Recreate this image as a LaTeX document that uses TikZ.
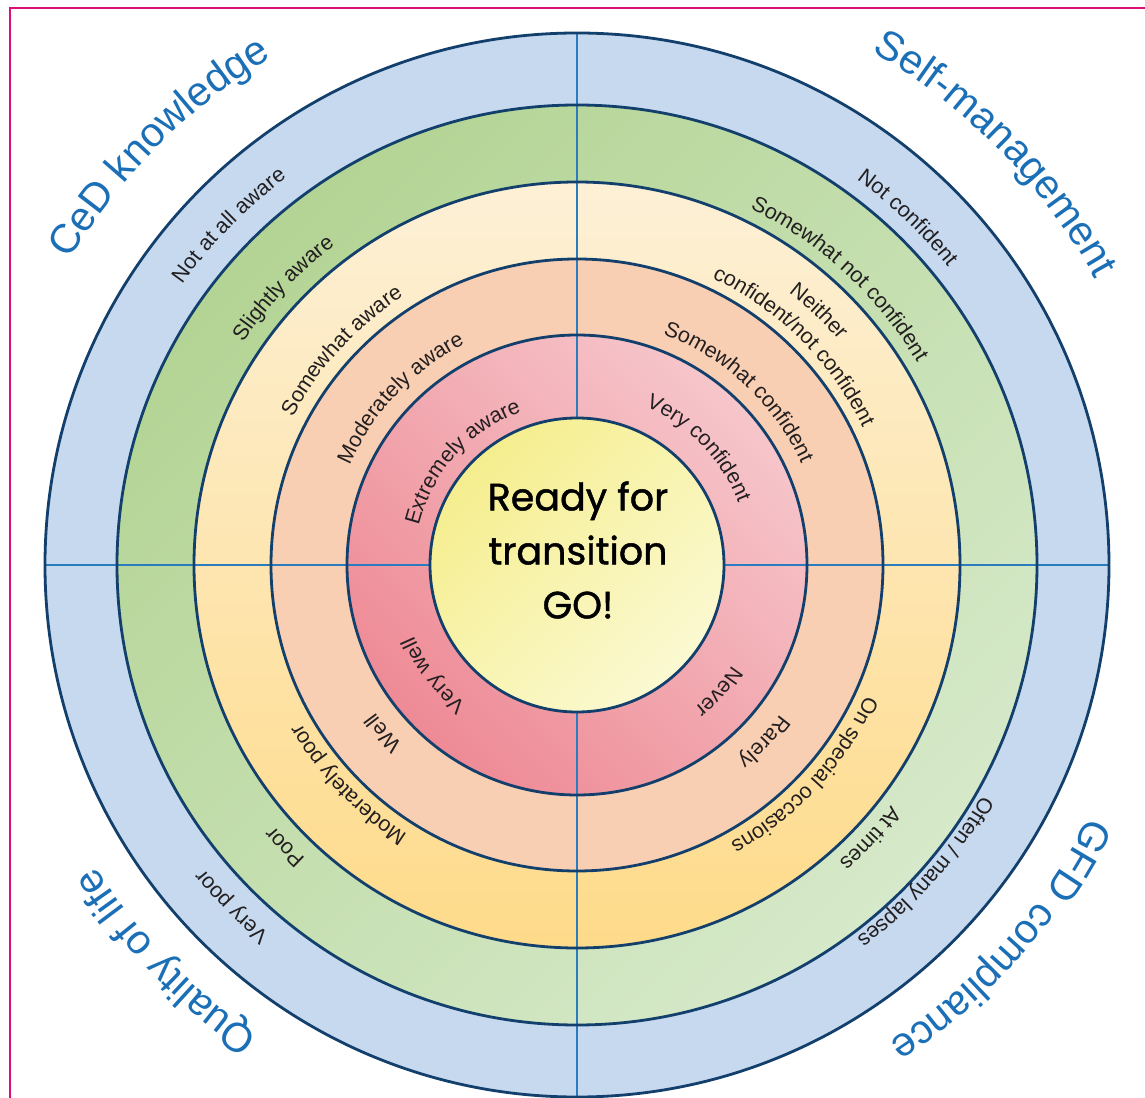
\documentclass[tikz,border=0pt]{standalone}
\usepackage{fontspec}
\usepackage{xcolor}
\usepackage{tikz}
\usetikzlibrary{decorations.text}
\setmainfont{Liberation Sans}
\newfontfamily\gofont[FakeBold=1.2]{Poppins}
\newcommand{\etqfont}{\fontsize{21.5}{21.5}\selectfont}
\newcommand{\titfont}{\fontsize{41}{41}\selectfont}
\newcommand{\rotulo}[4][etq]{\path[#1={#4}] ({#2+80}:#3) arc[start angle={#2+80}, end angle={#2-80}, radius=#3];}
\definecolor{cielo}{HTML}{C6D9EF}
\definecolor{verdeA}{HTML}{B3D494}
\definecolor{verdeB}{HTML}{D6E9CA}
\definecolor{cremaA}{HTML}{FDF0D6}
\definecolor{cremaB}{HTML}{FEDB8A}
\definecolor{melocoton}{HTML}{F9CFB4}
\definecolor{rosaA}{HTML}{F6C6CB}
\definecolor{rosaB}{HTML}{EE8A95}
\definecolor{limonA}{HTML}{F5EE8E}
\definecolor{limonB}{HTML}{FBF9D2}
\definecolor{marino}{HTML}{123F6B}
\definecolor{ejeazul}{HTML}{2B7CBF}
\definecolor{titulo}{HTML}{1B6FB6}
\definecolor{tinta}{HTML}{231F20}
\definecolor{marco}{HTML}{DC0F78}

\begin{document}
\begin{tikzpicture}[x=1pt, y=1pt,
      aro/.style={draw=marino, line width=2.8pt},
      eje/.style={draw=ejeazul, line width=1.2pt},
      etq/.style={decorate, decoration={text along path, text align=center,
                  text color=tinta, text={|\etqfont|#1}}},
      tit/.style={decorate, decoration={text along path, text align=center,
                  text color=titulo, text={|\titfont|#1}}}]
    \useasboundingbox (-577,-532) rectangle (568,565);
    \fill[white] (-577,-532) rectangle (568,565);
    \draw[marco, line width=2pt] (-567,-540) -- (-567,556.5) -- (580,556.5);
    \fill[cielo] (0,0) circle[radius=532];
    \shade[top color=verdeA, bottom color=verdeB, shading angle=45] (0,0) circle[radius=460];
    \shade[top color=cremaA, bottom color=cremaB] (0,0) circle[radius=383];
    \fill[melocoton] (0,0) circle[radius=306];
    \shade[top color=rosaA, bottom color=rosaB, shading angle=-45] (0,0) circle[radius=230];
    \shade[top color=limonA, bottom color=limonB, shading angle=45] (0,0) circle[radius=147];
    \foreach \a in {0,90,180,270}
      \draw[eje] (\a:147) -- (\a:532);
    \foreach \r in {147,230,306,383,460,532}
      \draw[aro] (0,0) circle[radius=\r];
    \node[align=center, text=black, font=\gofont\fontsize{38}{54}\selectfont] (go) at (1,15)
      {Ready for\\transition\\GO!};
    \rotulo{135.7}{484}{Not at all aware}
    \rotulo{136.7}{401}{Slightly aware}
    \rotulo{137.7}{320}{Somewhat aware}
    \rotulo{136.6}{248}{Moderately aware}
    \rotulo{138}{163}{Extremely aware}
    \rotulo{46.4}{476}{Not confident}
    \rotulo{47.4}{396}{Somewhat not confident}
    \rotulo{46.4}{345}{Neither}
    \rotulo{45.2}{317}{confident/not confident}
    \rotulo{46.9}{246}{Somewhat confident}
    \rotulo{43.9}{173}{Very confident}
    \rotulo{224.7}{481}{Very poor}
    \rotulo{224}{400}{Poor}
    \rotulo{223.8}{318}{Moderately poor}
    \rotulo{220.9}{250}{Well}
    \rotulo{217.5}{178}{Very well}
    \rotulo{318.2}{185}{Never}
    \rotulo{316.6}{252}{Rarely}
    \rotulo{317.3}{317}{On special occasions}
    \rotulo{317}{396}{At times}
    \rotulo{318.6}{466}{Often / many lapses}
    \rotulo[tit]{135}{592}{CeD knowledge}
    \rotulo[tit]{44.5}{592}{Self-management}
    \rotulo[tit]{224}{568}{Quality of life}
    \rotulo[tit]{318.5}{570}{GFD compliance}
\end{tikzpicture}
\end{document}
